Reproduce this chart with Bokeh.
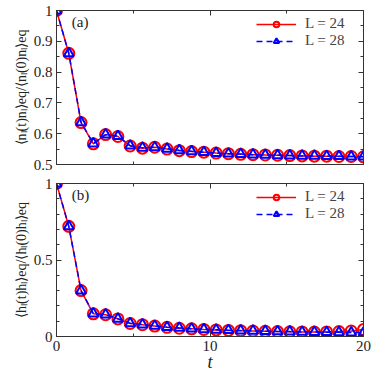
from bokeh.plotting import figure
from bokeh.layouts import column
from bokeh.models import (FixedTicker, LinearAxis, Legend, LegendItem, Label, Range1d)
from bokeh.embed import file_html
from bokeh.resources import INLINE

t = [0.0, 0.8, 1.6, 2.4, 3.2, 4.0, 4.8, 5.6, 6.4, 7.2, 8.0, 8.8, 9.6, 10.4, 11.2,
     12.0, 12.8, 13.6, 14.4, 15.2, 16.0, 16.8, 17.6, 18.4, 19.2, 20.0]

n_L24 = [1.0, 0.861, 0.636, 0.567, 0.597, 0.591, 0.560, 0.553, 0.556, 0.550, 0.545,
         0.542, 0.540, 0.537, 0.535, 0.533, 0.532, 0.531, 0.530, 0.529, 0.528, 0.527,
         0.527, 0.526, 0.526, 0.525]
n_L28 = [1.0, 0.861, 0.637, 0.568, 0.597, 0.592, 0.561, 0.554, 0.556, 0.551, 0.546,
         0.543, 0.540, 0.537, 0.535, 0.534, 0.532, 0.531, 0.530, 0.529, 0.528, 0.528,
         0.527, 0.527, 0.526, 0.526]

h_L24 = [1.0, 0.72, 0.30, 0.148, 0.142, 0.115, 0.085, 0.077, 0.068, 0.060, 0.054,
         0.050, 0.046, 0.043, 0.040, 0.038, 0.036, 0.034, 0.032, 0.031, 0.030, 0.029,
         0.030, 0.032, 0.036, 0.045]
h_L28 = [1.0, 0.72, 0.30, 0.150, 0.143, 0.116, 0.086, 0.078, 0.069, 0.061, 0.056,
         0.051, 0.047, 0.044, 0.041, 0.039, 0.037, 0.035, 0.033, 0.032, 0.030, 0.029,
         0.028, 0.027, 0.026, 0.025]

labels = ["L = 24", "L = 28"]
ylab_a = "⟨nₗ(t)nₗ⟩eq/⟨nₗ(0)nₗ⟩eq"
ylab_b = "⟨hₗ(t)hₗ⟩eq/⟨hₗ(0)hₗ⟩eq"

FONT = "Liberation Serif"
AX = "#333333"


def style_axis(ax, show_labels=True):
    ax.axis_line_color = AX
    ax.major_tick_line_color = AX
    ax.minor_tick_line_color = AX
    ax.major_tick_in = 5
    ax.major_tick_out = 0
    ax.minor_tick_in = 3
    ax.minor_tick_out = 0
    ax.major_label_text_font = FONT
    ax.major_label_text_color = "#222222"
    ax.axis_label_text_font = FONT
    ax.axis_label_text_font_style = "normal"
    ax.axis_label_text_color = "#222222"
    if show_labels:
        ax.major_label_text_font_size = "15px"
        ax.major_label_standoff = 4
    else:
        ax.major_label_text_font_size = "1px"
        ax.major_label_text_color = None
        ax.major_label_text_alpha = 0
        ax.major_label_standoff = 0


def make_panel(yvals1, yvals2, yr, yticks, yminor, yover, ylabel, tag, show_x, fh, bt, bb):
    p = figure(frame_width=307, frame_height=fh, output_backend="svg", toolbar_location=None,
               x_range=Range1d(0, 20), y_range=Range1d(*yr),
               min_border_left=56, min_border_right=11, min_border_top=bt, min_border_bottom=bb)
    p.xgrid.visible = False
    p.ygrid.visible = False
    p.outline_line_color = AX
    p.background_fill_color = "white"

    xt = FixedTicker(ticks=[0, 10, 20], minor_ticks=[5, 15])
    yt = FixedTicker(ticks=yticks, minor_ticks=yminor)

    p.xaxis.ticker = xt
    p.yaxis.ticker = yt
    p.yaxis.major_label_overrides = yover
    style_axis(p.xaxis[0], show_x)
    style_axis(p.yaxis[0], True)
    p.yaxis.axis_label = ylabel
    p.yaxis.axis_label_text_font_size = "14px"
    p.yaxis.axis_label_standoff = 2
    if show_x:
        p.xaxis.axis_label = "t"
        p.xaxis.axis_label_text_font_style = "italic"
        p.xaxis.axis_label_text_font_size = "18px"
        p.xaxis.axis_label_standoff = -2

    top = LinearAxis(ticker=FixedTicker(ticks=[0, 10, 20], minor_ticks=[5, 15]))
    right = LinearAxis(ticker=FixedTicker(ticks=yticks, minor_ticks=yminor))
    style_axis(top, False)
    style_axis(right, False)
    p.add_layout(top, "above")
    p.add_layout(right, "right")

    l1 = p.line(t, yvals1, line_color="#ff0000", line_width=1.5)
    s1 = p.scatter(t, yvals1, marker="circle", size=11, fill_color=None,
                   line_color="#ff0000", line_width=2)
    l2 = p.line(t, yvals2, line_color="#0000ff", line_width=1.5, line_dash="6 4")
    s2 = p.scatter(t, yvals2, marker="triangle", size=10, fill_color=None,
                   line_color="#0000ff", line_width=2)

    legend = Legend(items=[LegendItem(label=labels[0], renderers=[l1, s1]),
                           LegendItem(label=labels[1], renderers=[l2, s2])],
                    location="top_right", border_line_color=None,
                    background_fill_alpha=0, label_text_font=FONT,
                    label_text_font_size="15px", glyph_width=40, glyph_height=14,
                    spacing=0, padding=2, margin=5, label_standoff=9, label_height=14,
                    label_width=53)
    p.add_layout(legend)

    p.add_layout(Label(x=1.0, y=yr[1], text=tag, text_font=FONT, text_font_size="15px",
                       text_baseline="top", y_offset=-3, text_color="#222222"))
    return p


pa = make_panel(n_L24, n_L28, (0.5, 1.0), [0.5, 0.6, 0.7, 0.8, 0.9, 1.0],
                [0.55, 0.65, 0.75, 0.85, 0.95], {1: "1"}, ylab_a, "(a)", False, 154, 10, 9)
pb = make_panel(h_L24, h_L28, (0.0, 1.0), [0.0, 0.5, 1.0],
                [0.1, 0.2, 0.3, 0.4, 0.6, 0.7, 0.8, 0.9], {0: "0", 1: "1"}, ylab_b, "(b)",
                True, 153, 10, 36)

layout = column(pa, pb, spacing=0)
open("out.html", "w").write(file_html(layout, INLINE))
